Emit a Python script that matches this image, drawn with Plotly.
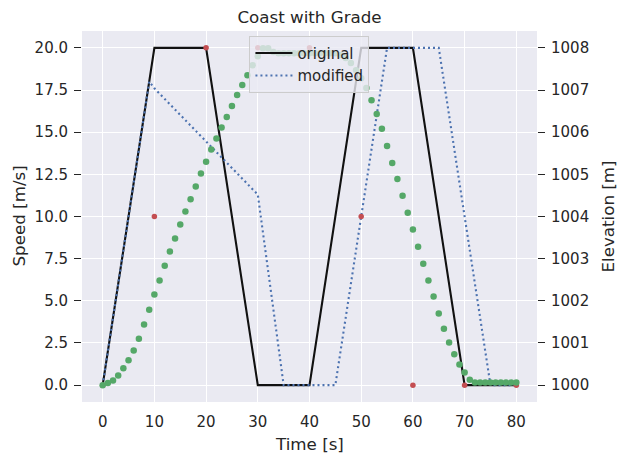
import plotly.graph_objects as go

# ---- data ----
time_orig = [0, 10, 20, 30, 40, 50, 60, 70, 80]
speed_orig = [0, 20, 20, 0, 0, 20, 20, 0, 0]

time_mod = [0, 9, 10, 30, 35, 45, 55, 65, 75, 80]
speed_mod = [0, 18, 17.6, 11.3, 0, 0, 20, 20, 0, 0]

time_grade = [0, 10, 20, 30, 40, 50, 60, 70, 80]
elev_grade = [1000, 1004, 1008, 1008, 1008, 1004, 1000, 1000, 1000]

time_elev = list(range(0, 81))
elev_mod = [
    1000.00, 1000.05, 1000.11, 1000.23, 1000.40, 1000.59, 1000.82, 1001.10, 1001.44, 1001.79,
    1002.15, 1002.48, 1002.83, 1003.17, 1003.48, 1003.81, 1004.12, 1004.41, 1004.71, 1005.02,
    1005.30, 1005.59, 1005.85, 1006.11, 1006.36, 1006.62, 1006.88, 1007.12, 1007.35, 1007.59,
    1007.80, 1007.99, 1007.99, 1007.90, 1007.87, 1007.87, 1007.87, 1007.87, 1007.87, 1007.87,
    1007.87, 1007.87, 1007.87, 1007.87, 1007.87, 1007.87, 1007.83, 1007.76, 1007.64, 1007.47,
    1007.28, 1007.05, 1006.76, 1006.43, 1006.08, 1005.67, 1005.27, 1004.89, 1004.49, 1004.09,
    1003.69, 1003.28, 1002.88, 1002.48, 1002.10, 1001.70, 1001.34, 1001.01, 1000.73, 1000.49,
    1000.30, 1000.13, 1000.06, 1000.06, 1000.06, 1000.06, 1000.06, 1000.06, 1000.06, 1000.06,
    1000.06,
]

speed_ticks = [0, 2.5, 5, 7.5, 10, 12.5, 15, 17.5, 20]
elev_ticks = list(range(1000, 1009))
time_ticks = list(range(0, 81, 10))

# ---- style ----
TXT = "#262626"
FONT = "DejaVu Sans"
W, H = 623, 464
L, R, T, B = 82, 86, 31, 62

fig = go.Figure()
fig.add_trace(go.Scatter(x=time_orig, y=speed_orig, mode="lines", name="original",
                         line=dict(color="#111111", width=2.1)))
fig.add_trace(go.Scatter(x=time_mod, y=speed_mod, mode="lines", name="modified",
                         line=dict(color="#4C72B0", width=2.1, dash="2px,3px")))
fig.add_trace(go.Scatter(x=time_grade, y=elev_grade, mode="markers", yaxis="y2",
                         showlegend=False, marker=dict(color="#C44E52", size=5.5)))
fig.add_trace(go.Scatter(x=time_elev, y=elev_mod, mode="markers", yaxis="y2",
                         showlegend=False, marker=dict(color="#55A868", size=6.5)))

fig.update_layout(
    width=W, height=H,
    margin=dict(l=L, r=R, t=T, b=B, pad=0),
    paper_bgcolor="white",
    plot_bgcolor="#EAEAF2",
    font=dict(family=FONT, color=TXT, size=15),
    title=dict(text="Coast with Grade", x=0.5, xref="paper", xanchor="center",
               y=1 - 17 / H, yref="container", yanchor="middle",
               font=dict(size=16.7, color=TXT, family=FONT)),
    xaxis=dict(range=[-4, 84], tickvals=time_ticks, showgrid=True, gridcolor="white",
               gridwidth=1.4, zeroline=False, showline=False, ticks="",
               ticklabelstandoff=9, tickfont=dict(size=15, color=TXT)),
    yaxis=dict(range=[-1, 21], tickvals=speed_ticks, tickformat=".1f", showgrid=True,
               gridcolor="white", gridwidth=1.4, zeroline=False, showline=False,
               ticks="outside", ticklen=7, tickwidth=1.3, tickcolor=TXT,
               ticklabelstandoff=3, tickfont=dict(size=15, color=TXT)),
    yaxis2=dict(range=[999.6, 1008.4], tickvals=elev_ticks, overlaying="y", side="right",
                showgrid=False, zeroline=False, showline=False,
                ticks="outside", ticklen=7, tickwidth=1.3, tickcolor=TXT,
                ticklabelstandoff=3, tickfont=dict(size=15, color=TXT)),
    legend=dict(x=0.368, y=0.987, xanchor="left", yanchor="top",
                bgcolor="rgba(234,234,242,0.8)", bordercolor="#CCCCCC", borderwidth=1,
                itemwidth=37,
                font=dict(size=15, color=TXT, family=FONT), tracegroupgap=0),
    showlegend=True,
)

# axis titles as annotations
fig.add_annotation(text="Time [s]", xref="paper", yref="paper", x=0.5,
                   y=-(444 - (H - B)) / (H - T - B), xanchor="center", yanchor="middle",
                   showarrow=False, font=dict(size=16.7, color=TXT, family=FONT))
fig.add_annotation(text="Speed [m/s]", xref="paper", yref="paper",
                   x=-(L - 18) / (W - L - R), y=0.5, xanchor="center", yanchor="middle",
                   textangle=-90, showarrow=False, font=dict(size=16.7, color=TXT, family=FONT))
fig.add_annotation(text="Elevation [m]", xref="paper", yref="paper",
                   x=1 + (607 - (W - R)) / (W - L - R), y=0.5, xanchor="center", yanchor="middle",
                   textangle=-90, showarrow=False, font=dict(size=16.7, color=TXT, family=FONT))

fig.write_html("out.html")
